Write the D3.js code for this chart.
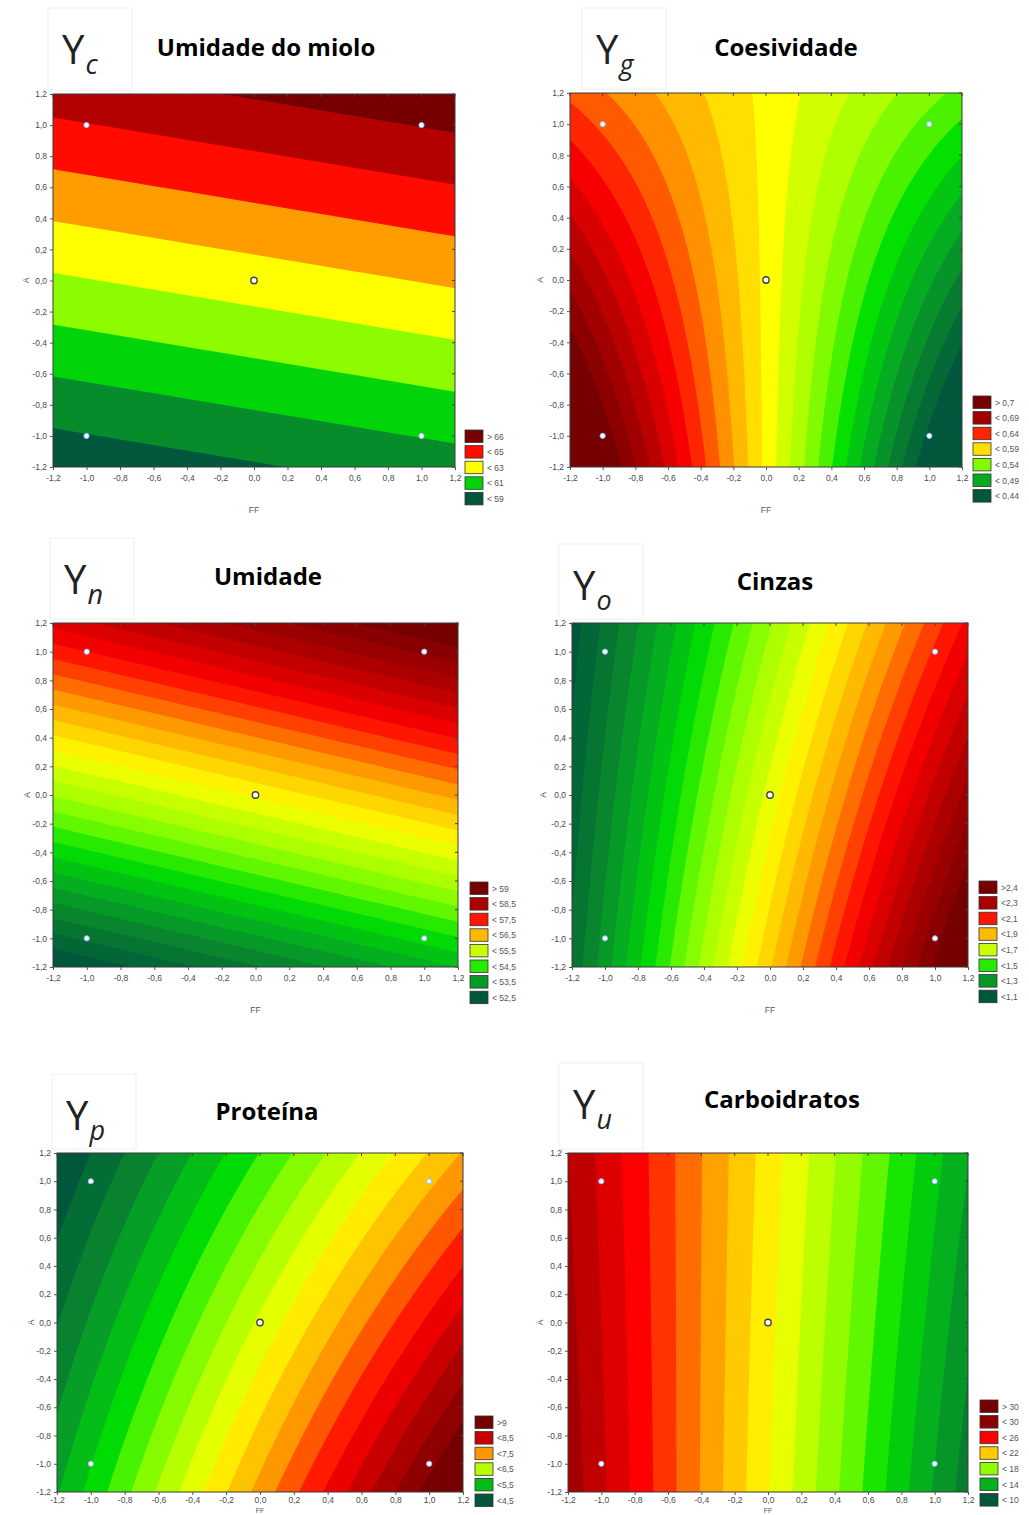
<!DOCTYPE html>
<html><head><meta charset="utf-8">
<script src="https://cdn.jsdelivr.net/npm/d3@7"></script>
<style>body{margin:0;background:#fff}svg{display:block}</style>
</head><body>
<svg id="chart" width="1029" height="1515"></svg>
<script>
// ---------- shared axis data ----------
const axisTicks = [-1.2,-1.0,-0.8,-0.6,-0.4,-0.2,0.0,0.2,0.4,0.6,0.8,1.0,1.2];
const tickLabels = ["-1,2","-1,0","-0,8","-0,6","-0,4","-0,2","0,0","0,2","0,4","0,6","0,8","1,0","1,2"];
const designFF = [-1, 1, -1, 1, 0];
const designA  = [ 1, 1, -1, -1, 0];
const xTitle = "FF", yTitle = "A";

// ---------- panel data ----------
// fitted response-surface coefficients: [b0, bFF, bA, bFF*A, bFF^2, bA^2]
const titles = ["Umidade do miolo","Coesividade","Umidade","Cinzas","Proteína","Carboidratos"];
const subs = ["c","g","n","o","p","u"];

const coefC = [62.5, 0.54, 3.00, 0, 0, 0];
const coefG = [0.574, -0.094, 0.0, 0.0433, 0, 0];
const coefN = [55.8, 0.65, 2.35, 0, 0, 0];
const coefO = [1.72, 0.50, -0.104, -0.056, 0, 0];
const coefP = [6.55, 1.51, -0.66, -0.21, 0, 0];
const coefU = [20.3, -6.7, 0.2, 0.4, 0, 0];

const thrC = [59,60,61,62,63,64,65,66];
const thrG = [0.44,0.4525,0.465,0.4775,0.49,0.5025,0.515,0.5275,0.54,0.5525,0.565,0.5775,0.59,0.6025,0.615,0.6275,0.64,0.6525,0.665,0.6775,0.69,0.7025];
const thrN = [52.5,52.75,53,53.25,53.5,53.75,54,54.25,54.5,54.75,55,55.25,55.5,55.75,56,56.25,56.5,56.75,57,57.25,57.5,57.75,58,58.25,58.5,58.75,59];
const thrO = [1.1,1.15,1.2,1.25,1.3,1.35,1.4,1.45,1.5,1.55,1.6,1.65,1.7,1.75,1.8,1.85,1.9,1.95,2.0,2.05,2.1,2.15,2.2,2.25,2.3,2.35,2.4];
const thrP = [4.5,4.75,5,5.25,5.5,5.75,6,6.25,6.5,6.75,7,7.25,7.5,7.75,8,8.25,8.5,8.75,9];
const thrU = [10,11,12,13,14,15,16,17,18,19,20,21,22,23,24,25,26,27,28,29,30];

const legC = ["> 66","< 65","< 63","< 61","< 59"];
const legG = ["> 0,7","< 0,69","< 0,64","< 0,59","< 0,54","< 0,49","< 0,44"];
const legN = ["> 59","< 58,5","< 57,5","< 56,5","< 55,5","< 54,5","< 53,5","< 52,5"];
const legO = [">2,4","<2,3","<2,1","<1,9","<1,7","<1,5","<1,3","<1,1"];
const legP = [">9","<8,5","<7,5","<6,5","<5,5","<4,5"];
const legU = ["> 30","< 30","< 26","< 22","< 18","< 14","< 10"];
// band index shown by each legend entry
const legBandC = [8,6,4,2,0];
const legBandG = [22,20,16,12,8,4,0];
const legBandN = [27,24,20,16,12,8,4,0];
const legBandO = [27,24,20,16,12,8,4,0];
const legBandP = [19,16,12,8,4,0];
const legBandU = [21,20,16,12,8,4,0];

// ---------- colour ramp (Statistica-like) ----------
const rampT = [0,0.10,0.18,0.27,0.33,0.40,0.45,0.50,0.57,0.63,0.70,0.76,0.88,1];
const rampC = ["#00573c","#087f2f","#05aa22","#00e000","#5cf700","#a8ff00","#ccff00","#ffff00","#ffcc00","#ff9900","#ff4400","#ff0000","#b00000","#760000"];
const ramp = d3.scaleLinear().domain(rampT).range(rampC).interpolate(d3.interpolateRgb);

// ---------- layout ----------
const layout = [
 {plot:[53,94,455,467],   yl:[62,64],   tx:266, ty:56,   ax:29,  lx:465, ly:430, fy:46},
 {plot:[570,93,962,467],  yl:[596,64],  tx:786, ty:56,   ax:543, lx:973, ly:396, fy:46},
 {plot:[53,623,458,967],  yl:[64,594],  tx:268, ty:585,  ax:30,  lx:470, ly:882, fy:46},
 {plot:[572,623,968,967], yl:[573,600], tx:775, ty:590,  ax:546, lx:979, ly:881, fy:46},
 {plot:[57,1153,463,1492],yl:[66,1130], tx:267, ty:1120, ax:34,  lx:475, ly:1416, fy:21},
 {plot:[568,1153,968,1492],yl:[573,1119],tx:782,ty:1108, ax:543, lx:980, ly:1400, fy:21}
];
const panels = [
 {coef:coefC, thr:thrC, leg:legC, legBand:legBandC},
 {coef:coefG, thr:thrG, leg:legG, legBand:legBandG},
 {coef:coefN, thr:thrN, leg:legN, legBand:legBandN},
 {coef:coefO, thr:thrO, leg:legO, legBand:legBandO},
 {coef:coefP, thr:thrP, leg:legP, legBand:legBandP},
 {coef:coefU, thr:thrU, leg:legU, legBand:legBandU}
];

const svg = d3.select("#chart");
const N = 181;
const lo = -1.2, hi = 1.2, step = (hi-lo)/(N-1);
const smallFont = "Liberation Sans, Arial, sans-serif";

panels.forEach((p, k) => {
  const L = layout[k];
  const [x0,y0,x1,y1] = L.plot;
  const xs = d3.scaleLinear().domain([lo,hi]).range([x0,x1]);
  const ys = d3.scaleLinear().domain([lo,hi]).range([y1,y0]);
  const c = p.coef;
  const f = (x,y) => c[0] + c[1]*x + c[2]*y + c[3]*x*y + c[4]*x*x + c[5]*y*y;
  const vals = new Float64Array(N*N);
  for (let j=0;j<N;j++){ const y = hi - j*step;
    for (let i=0;i<N;i++){ const x = lo + i*step; vals[i + j*N] = f(x,y); } }
  const nb = p.thr.length + 1;
  const col = i => ramp(i/(nb-1));
  const contours = d3.contours().size([N,N]).thresholds(p.thr)(vals);
  const proj = d3.geoTransform({point:function(gx,gy){
     this.stream.point(xs(lo + (gx-0.5)*step), ys(hi - (gy-0.5)*step)); }});
  const path = d3.geoPath(proj);

  const g = svg.append("g");
  const cid = "clip"+k;
  g.append("clipPath").attr("id",cid).append("rect")
    .attr("x",x0).attr("y",y0).attr("width",x1-x0).attr("height",y1-y0);
  const pg = g.append("g").attr("clip-path",`url(#${cid})`);
  pg.append("rect").attr("x",x0).attr("y",y0).attr("width",x1-x0).attr("height",y1-y0).attr("fill",col(0));
  pg.selectAll("path.band").data(contours).join("path").attr("class","band")
    .attr("d",path).attr("fill",(d,i)=>col(i+1));

  g.append("rect").attr("x",x0).attr("y",y0).attr("width",x1-x0).attr("height",y1-y0)
    .attr("fill","none").attr("stroke","#3a3a3a").attr("stroke-width",1);

  const bottomRow = k > 3;
  const ax = d3.axisBottom(xs).tickValues(axisTicks).tickFormat((d,i)=>tickLabels[i]).tickSize(3).tickPadding(bottomRow?2:5);
  const ay = d3.axisLeft(ys).tickValues(axisTicks).tickFormat((d,i)=>tickLabels[i]).tickSize(3).tickPadding(3);
  const gx = g.append("g").attr("transform",`translate(0,${y1})`).call(ax);
  const gy = g.append("g").attr("transform",`translate(${x0},0)`).call(ay);
  [gx,gy].forEach(a=>{ a.select(".domain").remove();
    a.selectAll(".tick line").attr("stroke","#555");
    a.selectAll("text").attr("fill","#4a4a4a").style("font-family",smallFont).style("font-size","8.5px"); });
  g.append("g").selectAll("line").data(axisTicks).join("line")
    .attr("x1",d=>xs(d)).attr("x2",d=>xs(d)).attr("y1",y0).attr("y2",y0+3).attr("stroke","#444");
  g.append("g").selectAll("line").data(axisTicks).join("line")
    .attr("y1",d=>ys(d)).attr("y2",d=>ys(d)).attr("x1",x1).attr("x2",x1-3).attr("stroke","#444");

  g.append("text").attr("x",(x0+x1)/2).attr("y",y1+L.fy).attr("text-anchor","middle")
    .attr("fill","#555").style("font-family",smallFont).style("font-size",bottomRow?"7px":"8.5px").text(xTitle);
  g.append("text").attr("transform",`translate(${L.ax},${(y0+y1)/2}) rotate(-90)`).attr("text-anchor","middle")
    .attr("fill","#555").style("font-family",smallFont).style("font-size","8.5px").text(yTitle);

  g.append("g").selectAll("circle").data(designFF).join("circle")
    .attr("cx",d=>xs(d)).attr("cy",(d,i)=>ys(designA[i])).attr("r",(d,i)=>i===4?3.2:2.6)
    .attr("fill","#fff").attr("stroke",(d,i)=>i===4?"#444":"#8fb8ff").attr("stroke-width",(d,i)=>i===4?1.4:1);

  const lg = g.append("g");
  p.leg.forEach((t,i)=>{
    const yy = L.ly + i*15.6;
    lg.append("rect").attr("x",L.lx).attr("y",yy).attr("width",18).attr("height",12.5)
      .attr("fill",col(p.legBand[i])).attr("stroke","#333").attr("stroke-width",0.8);
    lg.append("text").attr("x",L.lx+22).attr("y",yy+9.5).attr("fill","#555")
      .style("font-family",smallFont).style("font-size","8.5px").text(t);
  });

  const [yx,yb] = L.yl;
  g.append("rect").attr("x",yx-14).attr("y",yb-56).attr("width",84).attr("height",(y0-4)-(yb-56))
    .attr("fill","none").attr("stroke","#efefef").attr("stroke-width",1);
  const yt = g.append("text").attr("x",yx).attr("y",yb).attr("fill","#222")
    .style("font-family","Open Sans, DejaVu Sans, sans-serif");
  yt.append("tspan").style("font-size","40px").text("Y");
  yt.append("tspan").attr("dx",1).attr("dy",10).style("font-size","27px").style("font-style","italic").text(subs[k]);
  g.append("text").attr("x",L.tx).attr("y",L.ty).attr("text-anchor","middle").attr("fill","#000")
    .style("font-family","Open Sans, DejaVu Sans, sans-serif").style("font-weight","bold").style("font-size","24px").text(titles[k]);
});
</script>
</body></html>
